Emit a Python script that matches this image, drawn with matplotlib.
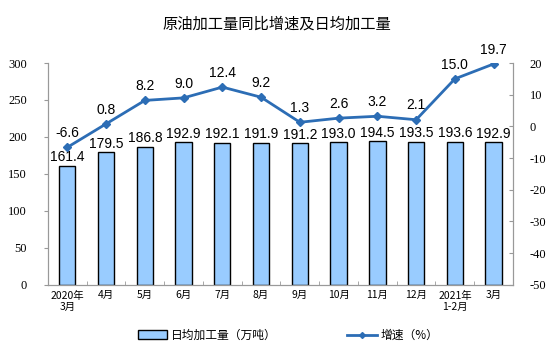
import numpy as np
import matplotlib
matplotlib.use('Agg')
import matplotlib.pyplot as plt
from matplotlib.lines import Line2D
from matplotlib.patches import Patch

plt.rcParams['font.family'] = ['Noto Sans CJK SC', 'DejaVu Sans']
plt.rcParams['axes.unicode_minus'] = False

# data
months = ['2020年\n3月', '4月', '5月', '6月', '7月', '8月', '9月', '10月', '11月', '12月', '2021年\n1-2月', '3月']
daily = [161.4, 179.5, 186.8, 192.9, 192.1, 191.9, 191.2, 193.0, 194.5, 193.5, 193.6, 192.9]
growth = [-6.6, 0.8, 8.2, 9.0, 12.4, 9.2, 1.3, 2.6, 3.2, 2.1, 15.0, 19.7]

fig = plt.figure(figsize=(5.54, 3.53), dpi=100)
ax = fig.add_axes([0.0866, 0.193, 0.8394, 0.6285])
ax2 = ax.twinx()

x = np.arange(len(months))
ax.bar(x, daily, width=0.42, color='#99CCFF', edgecolor='black', linewidth=1.0, zorder=2)
for xi, v in zip(x, daily):
    ax.text(xi, v + 2, f'{v:.1f}', ha='center', va='bottom', fontsize=10,
            family='Liberation Sans', zorder=5)

ax2.plot(x, growth, color='#2C6DB5', lw=2, marker='D', ms=4, zorder=4)
for xi, v in zip(x, growth):
    ax2.text(xi, v + 2.3, f'{v:.1f}', ha='center', va='bottom', fontsize=10,
             family='Liberation Sans', zorder=5)

ax.set_xlim(-0.5, len(months) - 0.5)
ax.set_ylim(0, 300)
ax.set_yticks(range(0, 301, 50))
ax2.set_ylim(-50, 20)
ax2.set_yticks(range(-50, 21, 10))

ax.set_xticks(x)
ax.set_xticklabels(months, fontsize=7.5)
ax.set_xticks(np.arange(-0.5, len(months), 1), minor=True)
ax.tick_params(axis='x', which='major', length=0, pad=4)
ax.tick_params(axis='x', which='minor', length=3, direction='in', color='#999999')

for a in (ax, ax2):
    a.spines['top'].set_visible(False)
    for s in ('left', 'right', 'bottom'):
        a.spines[s].set_color('#999999')
ax.tick_params(axis='y', length=3, color='#999999', pad=12,
               labelfontfamily='Liberation Serif', labelsize=9)
ax2.tick_params(axis='y', length=3, color='#999999', pad=12, direction='in',
                labelfontfamily='Liberation Serif', labelsize=9)

ax2.set_zorder(ax.get_zorder() + 1)
ax2.patch.set_visible(False)

fig.text(0.5, 0.932, '原油加工量同比增速及日均加工量', ha='center', va='center', fontsize=11)

handles = [Patch(facecolor='#99CCFF', edgecolor='black', linewidth=1.0),
           Line2D([0], [0], color='#2C6DB5', lw=2, marker='D', ms=3)]
fig.legend(handles, ['日均加工量（万吨）', '增速（%）'], loc='center', bbox_to_anchor=(0.52, 0.05),
           ncol=2, frameon=False, fontsize=8.5, columnspacing=6, handlelength=2.5,
           handleheight=0.8, handletextpad=0.3)

fig.savefig('out.png', dpi=100)
